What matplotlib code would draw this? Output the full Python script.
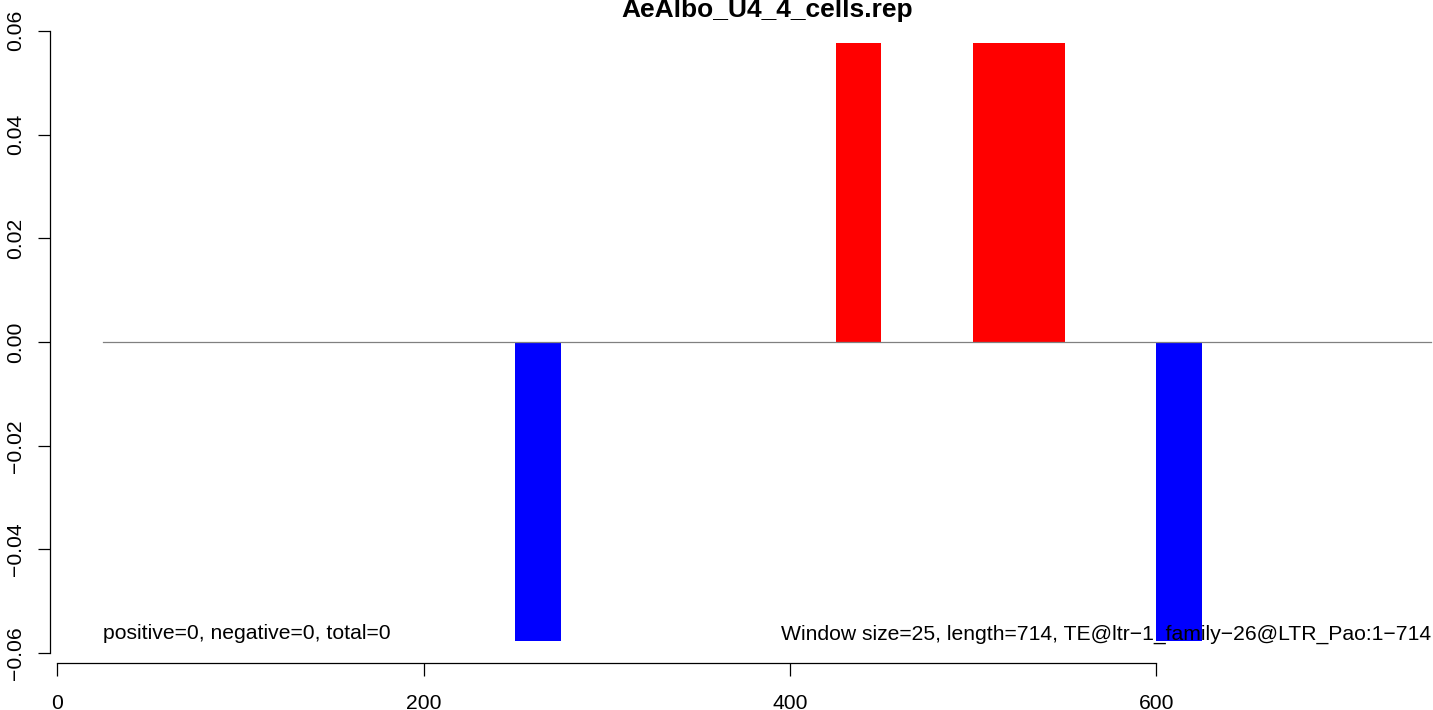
import matplotlib
matplotlib.use("Agg")
import matplotlib.pyplot as plt
from matplotlib.patches import Rectangle

plt.rcParams['font.family'] = ['Liberation Sans', 'DejaVu Sans']

# window data
window_size = 25
window_start = [250, 425, 500, 525, 600]
window_value = [-0.0577, 0.0577, 0.0577, 0.0577, -0.0577]
line_start, line_end = 25, 750

title = "AeAlbo_U4_4_cells.rep"
left_note = "positive=0, negative=0, total=0"
right_note = "Window size=25, length=714, TE@ltr\u22121_family\u221226@LTR_Pao:1\u2212714"
x_ticks = [0, 200, 400, 600]
y_ticks = [-0.06, -0.04, -0.02, 0.00, 0.02, 0.04, 0.06]

W, H = 1433, 710
fig = plt.figure(figsize=(W / 100, H / 100), dpi=100)
# plot region: left 50px, top 21px, bottom 663px, right runs past the image edge
ax = fig.add_axes([50 / W, (H - 663) / H, (1484 - 50) / W, (663 - 21) / H])
ax.set_xlim(-4, 779)
ax.set_ylim(-0.0619, 0.0619)

ax.text(line_start, -0.0563, left_note, ha='left', va='center', fontsize=15.2)
ax.text(line_end, -0.0563, right_note, ha='right', va='center', fontsize=15.2)

for start, val in zip(window_start, window_value):
    color = 'red' if val > 0 else 'blue'
    ax.add_patch(Rectangle((start, 0), window_size, val, facecolor=color,
                           edgecolor='none', zorder=2))

ax.plot([line_start, line_end], [0, 0], color='#808080', lw=0.9, zorder=3)

for s in ['top', 'right']:
    ax.spines[s].set_visible(False)
ax.spines['left'].set_bounds(-0.06, 0.06)
ax.spines['bottom'].set_bounds(0, 600)
for s in ['left', 'bottom']:
    ax.spines[s].set_linewidth(0.9)

ax.set_xticks(x_ticks)
ax.set_xticklabels([str(t) for t in x_ticks], fontsize=15.2)
ax.set_yticks(y_ticks)
ax.set_yticklabels([f"{t:.2f}".replace('-', '\u2212') for t in y_ticks],
                   fontsize=15.2, rotation=90, va='center')
ax.tick_params(axis='x', length=9, width=0.9, pad=13)
ax.tick_params(axis='y', length=9, width=0.9, pad=9)

fig.text(767 / W, 1 - 10 / H, title, ha='center', va='center',
         fontsize=19, fontweight='bold')

fig.savefig("out.png", dpi=100)
